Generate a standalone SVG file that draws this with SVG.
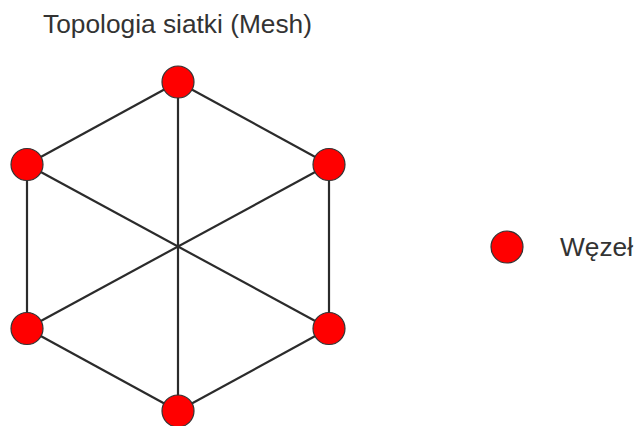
<svg xmlns="http://www.w3.org/2000/svg" width="636" height="426" viewBox="0 0 636 426">
<style>
.edge{stroke:#2b2b2b;stroke-width:2.2;fill:none}
.node{fill:#ff0000;stroke:#333;stroke-width:1.2}
.lbl{font-family:"Liberation Sans",Arial,sans-serif;font-size:26.3px;fill:#333}
</style>
<rect width="636" height="426" fill="#fff"/>
<text class="lbl" x="177.5" y="33" text-anchor="middle">Topologia siatki (Mesh)</text>
<g id="connectors">
<line class="edge" x1="178" y1="82" x2="27" y2="164.5"/>
<line class="edge" x1="178" y1="82" x2="329" y2="164.5"/>
<line class="edge" x1="27" y1="164.5" x2="27" y2="328.5"/>
<line class="edge" x1="329" y1="164.5" x2="329" y2="328.5"/>
<line class="edge" x1="27" y1="328.5" x2="178" y2="411"/>
<line class="edge" x1="329" y1="328.5" x2="178" y2="411"/>
<line class="edge" x1="178" y1="82" x2="178" y2="411"/>
<line class="edge" x1="27" y1="164.5" x2="329" y2="328.5"/>
<line class="edge" x1="329" y1="164.5" x2="27" y2="328.5"/>
</g>
<g id="n1"><circle class="node" cx="178" cy="82" r="16"/></g>
<g id="n2"><circle class="node" cx="27" cy="164.5" r="16"/></g>
<g id="n3"><circle class="node" cx="329" cy="164.5" r="16"/></g>
<g id="n4"><circle class="node" cx="27" cy="328.5" r="16"/></g>
<g id="n5"><circle class="node" cx="329" cy="328.5" r="16"/></g>
<g id="n6"><circle class="node" cx="178" cy="411" r="16"/></g>
<g id="legend">
<circle class="node" cx="507" cy="247" r="16"/>
<text class="lbl" x="560" y="256">Węzeł</text>
</g>
</svg>
